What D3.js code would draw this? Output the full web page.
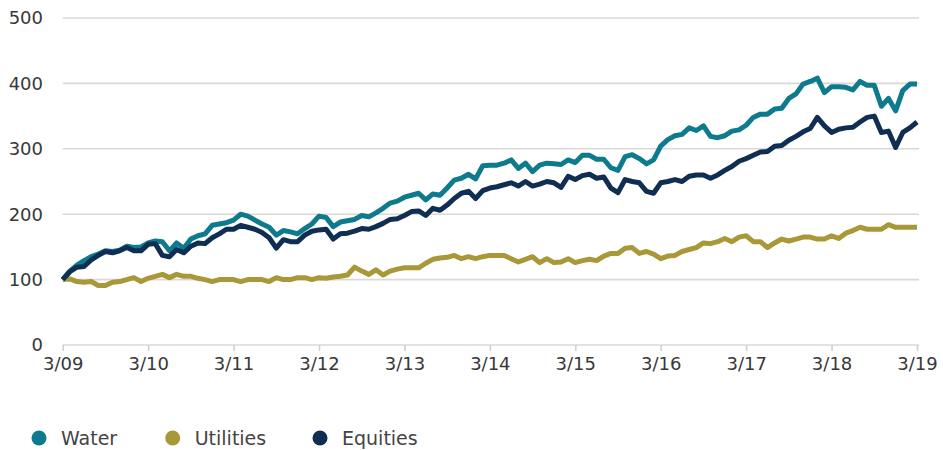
<!DOCTYPE html>
<html>
<head>
<meta charset="utf-8">
<script src="https://cdn.jsdelivr.net/npm/d3@7"></script>
<style>
  body { margin: 0; background: #fff; }
  #chart { width: 943px; height: 450px; }
  text { font-family: "DejaVu Sans", sans-serif; }
</style>
</head>
<body>
<div id="chart"></div>
<script>
// monthly index values, 3/09 .. 3/19
const water = [100,113,122,129,135,139,144,143,145,151,149,150,
  156,159,158,144,156,148,162,167,170,183,185,187,
  191,200,197,191,185,180,168,175,173,170,178,185,
  197,195,181,188,190,192,198,196,202,209,217,220,
  226,229,232,222,231,229,240,252,255,261,254,274,
  275,275,278,283,270,278,265,275,278,277,276,283,
  279,290,290,284,284,271,267,288,291,285,277,283,
  304,314,320,322,332,328,335,319,317,320,327,329,
  336,348,353,353,361,362,377,384,399,403,408,386,
  395,395,394,390,403,397,397,365,377,358,389,399,399];

const utilities = [100,101,97,96,97,91,91,96,97,100,103,97,
  102,105,108,103,108,105,105,102,100,97,100,100,
  100,97,100,100,100,97,103,100,100,103,103,100,
  103,102,104,105,107,119,113,108,115,107,113,116,
  118,118,118,125,131,133,134,137,132,135,132,135,
  137,137,137,132,127,131,135,126,132,126,127,132,
  126,129,131,129,136,140,140,148,149,140,143,139,
  132,136,137,143,146,149,156,155,158,163,158,165,
  167,158,158,149,156,162,159,162,165,165,162,162,
  167,163,171,175,180,177,177,177,184,180,180,180,180];

const equities = [100,112,119,120,130,137,143,141,144,149,144,144,
  154,155,137,135,146,141,151,156,155,164,170,177,
  177,183,180,177,172,164,148,161,158,158,168,174,
  176,177,162,170,171,174,178,177,181,186,192,193,
  198,204,205,198,209,206,214,224,232,235,224,236,
  240,242,245,248,243,250,243,246,250,248,241,258,
  253,259,261,255,257,240,233,253,250,248,235,232,
  248,250,253,250,258,260,260,255,260,267,273,281,
  285,290,295,296,304,305,313,319,326,331,348,335,
  325,330,332,333,341,348,350,325,327,302,325,332,341];

const tickLabels = ["3/09","3/10","3/11","3/12","3/13","3/14","3/15","3/16","3/17","3/18","3/19"];
const yTicks = [0, 100, 200, 300, 400, 500];

const series = [
  {name: "Water", values: water, color: "#0d7a8d"},
  {name: "Utilities", values: utilities, color: "#a99838"},
  {name: "Equities", values: equities, color: "#0f2e52"}
];

const svg = d3.select("#chart").append("svg")
  .attr("width", 943)
  .attr("height", 450);

const x = d3.scaleLinear().domain([0, 120]).range([62.7, 917]);
const y = d3.scaleLinear().domain([0, 500]).range([345, 18]);

// gridlines
svg.append("g")
  .selectAll("line")
  .data(yTicks)
  .join("line")
  .attr("x1", 62.7)
  .attr("x2", 919)
  .attr("y1", d => y(d))
  .attr("y2", d => y(d))
  .attr("stroke", "#d9d9d9")
  .attr("stroke-width", 1.6);

// y labels
svg.append("g")
  .selectAll("text")
  .data(yTicks)
  .join("text")
  .attr("x", 43)
  .attr("y", d => y(d))
  .attr("dy", "0.36em")
  .attr("text-anchor", "end")
  .attr("font-size", 18)
  .attr("fill", "#383838")
  .text(d => d);

// x axis
const xAxis = d3.axisBottom(x)
  .tickValues(d3.range(0, 121, 12))
  .tickFormat((d, i) => tickLabels[i])
  .tickSize(6)
  .tickPadding(6);

const gx = svg.append("g")
  .attr("transform", `translate(0,${y(0)})`)
  .call(xAxis);
gx.select(".domain").remove();
gx.selectAll(".tick line").attr("stroke", "#d0d0d0").attr("stroke-width", 1.6);
gx.selectAll(".tick text")
  .attr("font-size", 18)
  .attr("font-family", "DejaVu Sans, sans-serif")
  .attr("fill", "#383838");

// lines
const line = d3.line()
  .x((d, i) => x(i))
  .y(d => y(d));

svg.append("g")
  .selectAll("path")
  .data(series)
  .join("path")
  .attr("d", d => line(d.values))
  .attr("fill", "none")
  .attr("stroke", d => d.color)
  .attr("stroke-width", 5)
  .attr("stroke-linejoin", "round");

// legend
const legendX = [39, 172.7, 320];
const legend = svg.append("g")
  .selectAll("g")
  .data(series)
  .join("g")
  .attr("transform", (d, i) => `translate(${legendX[i]},438)`);

legend.append("circle")
  .attr("r", 7.5)
  .attr("fill", d => d.color);

legend.append("text")
  .attr("x", 22)
  .attr("dy", "0.36em")
  .attr("font-size", 19)
  .attr("fill", "#444")
  .text(d => d.name);
</script>
</body>
</html>
